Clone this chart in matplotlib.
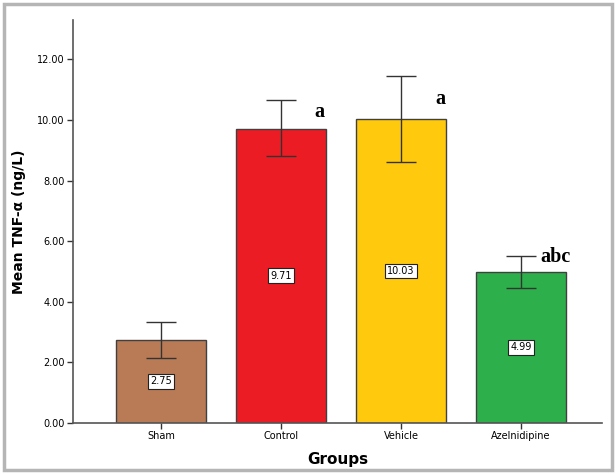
import matplotlib.pyplot as plt
from matplotlib.patches import Rectangle

groups = ['Sham', 'Control', 'Vehicle', 'Azelnidipine']
means = [2.75, 9.71, 10.03, 4.99]
err_upper = [3.33, 10.65, 11.45, 5.52]
err_lower = [2.15, 8.80, 8.63, 4.45]
letters = ['', 'a', 'a', 'abc']
letter_x = [0, 0.28, 0.29, 0.16]
letter_y = [0, 10.25, 10.68, 5.49]
colors = ['#B97A56', '#EC1C24', '#FFC90E', '#2DB04B']

fig = plt.figure(figsize=(6.16, 4.74), dpi=100)
ax = fig.add_axes([73 / 616, 1 - 423 / 474, (602 - 73) / 616, (423 - 20) / 474])

x = list(range(len(groups)))
ax.bar(x, means, width=0.75, color=colors, edgecolor='#404040', linewidth=1.0, zorder=2)

yerr = [[m - lo for m, lo in zip(means, err_lower)], [hi - m for m, hi in zip(means, err_upper)]]
ax.errorbar(x, means, yerr=yerr, fmt='none', ecolor='#333333', elinewidth=1.0, capsize=11, capthick=1.0, zorder=3)

for i, m in enumerate(means):
    ax.text(i, m / 2, f'{m:.2f}', ha='center', va='center', fontsize=7, zorder=4,
            bbox=dict(boxstyle='square,pad=0.25', facecolor='white', edgecolor='#222222', linewidth=0.8))
    if letters[i]:
        ax.text(i + letter_x[i], letter_y[i], letters[i], ha='left', va='center',
                fontsize=14.5, fontweight='bold', family='Liberation Serif', zorder=4)

ax.set_xlim(-0.733, 3.675)
ax.set_ylim(0, 13.3)
ax.set_yticks([0, 2, 4, 6, 8, 10, 12])
ax.set_yticklabels([f'{v:.2f}' for v in [0, 2, 4, 6, 8, 10, 12]], fontsize=7)
ax.set_xticks(x)
ax.set_xticklabels(groups, fontsize=7)
ax.tick_params(axis='both', length=4, width=1.0, color='#333333', pad=2)

for side in ['top', 'right']:
    ax.spines[side].set_visible(False)
for side in ['left', 'bottom']:
    ax.spines[side].set_color('#555555')
    ax.spines[side].set_linewidth(1.2)

ax.set_ylabel('Mean TNF-α (ng/L)', fontsize=10, fontweight='bold', labelpad=8)
ax.set_xlabel('Groups', fontsize=11, fontweight='bold', labelpad=8)

fig.patches.append(Rectangle((4 / 616, 4 / 474), 608 / 616, 466 / 474, transform=fig.transFigure,
                             fill=False, edgecolor='#B5B5B5', linewidth=2.5))

fig.savefig('out.png', dpi=100)
